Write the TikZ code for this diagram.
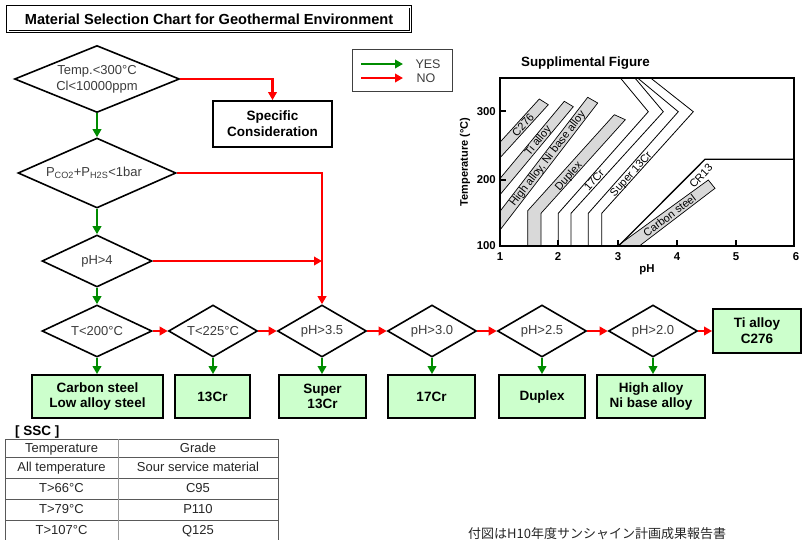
\documentclass[tikz,border=0pt]{standalone}
\usepackage{fontspec}
\setmainfont{Liberation Sans}
\newfontfamily\jpfont{Noto Sans CJK JP}
\usetikzlibrary{shapes.geometric,arrows.meta}

\definecolor{yesgreen}{RGB}{0,140,0}
\definecolor{nored}{RGB}{255,0,0}
\definecolor{boxgreen}{RGB}{204,255,204}
\definecolor{bandgray}{RGB}{217,217,217}
\definecolor{labelgray}{RGB}{60,60,60}

\tikzset{
  decision/.style={diamond, draw=black, line width=1.6pt, inner sep=0pt, align=center,
    text=labelgray, font=\fontsize{13}{16}\selectfont},
  result/.style={rectangle, draw=black, line width=1.8pt, fill=boxgreen, inner sep=0pt,
    align=center, font=\bfseries\fontsize{13.5}{15.7}\selectfont, minimum height=43pt},
  yesarrow/.style={draw=yesgreen, line width=2.2pt, -{Triangle[length=8pt,width=8.5pt]}},
  noarrow/.style={draw=nored, line width=2.2pt, -{Triangle[length=8pt,width=8.5pt]}},
  band/.style={draw=black, line width=0.7pt, fill=bandgray, line join=miter},
  bandlabel/.style={font=\fontsize{11}{11}\selectfont, inner sep=0pt},
  boundary/.style={draw=black, line width=0.8pt},
  ticklabel/.style={font=\bfseries\fontsize{11.4}{13}\selectfont, inner sep=0pt},
  tabletext/.style={font=\fontsize{13}{15}\selectfont, text=black!85, inner sep=0pt,
    text height=9.4pt, text depth=2.6pt},
  tableline/.style={draw=black!65, line width=0.9pt},
}

\begin{document}
\begin{tikzpicture}[x=1pt,y=-1pt]
\useasboundingbox (0,0) rectangle (802,539);

% ---------- title ----------
\node[draw=black, double, double distance=1.6pt, line width=0.9pt, inner sep=0pt,
  minimum width=402.6pt, minimum height=24.6pt,
  font=\bfseries\fontsize{14.6}{16}\selectfont] (title) at (209,19)
  {Material Selection Chart for Geothermal Environment};

% ---------- legend ----------
\node[draw=black!75, line width=1pt, minimum width=100pt, minimum height=42pt] (legend) at (402,70) {};
\coordinate (ya) at (361,64); \coordinate (yb) at (403,64);
\coordinate (na) at (361,78); \coordinate (nb) at (403,78);
\draw[yesarrow] (ya) -- (yb);
\draw[noarrow] (na) -- (nb);
\node[font=\fontsize{12.5}{14}\selectfont, text=labelgray] (yes) at (428,64) {YES};
\node[font=\fontsize{12.5}{14}\selectfont, text=labelgray] (no) at (426,78.5) {NO};

% ---------- flow chart ----------
\node[decision, minimum width=165pt, minimum height=67pt, shape aspect=2.46] (d1) at (97,79)
  {Temp.<300°C\\Cl<10000ppm};
\node[decision, minimum width=158pt, minimum height=70pt, shape aspect=2.26] (d2) at (97,173)
  {P\textsubscript{CO2}+P\textsubscript{H2S}<1bar\hspace{6pt}};
\node[decision, minimum width=110pt, minimum height=52pt, shape aspect=2.1] (d3) at (97,261) {pH>4};

\node[result, fill=white, minimum width=119pt, minimum height=46pt] (spec) at (272.5,124)
  {Specific\\Consideration};

\node[decision, minimum width=110pt, minimum height=52pt, shape aspect=2.1] (r1) at (97,331) {T<200°C};
\node[decision, minimum width=89pt, minimum height=52pt, shape aspect=1.71] (r2) at (213,331) {T<225°C};
\node[decision, minimum width=89pt, minimum height=52pt, shape aspect=1.71] (r3) at (322,331) {pH>3.5};
\node[decision, minimum width=89pt, minimum height=52pt, shape aspect=1.71] (r4) at (432,331) {pH>3.0};
\node[decision, minimum width=89pt, minimum height=52pt, shape aspect=1.71] (r5) at (542,331) {pH>2.5};
\node[decision, minimum width=89pt, minimum height=52pt, shape aspect=1.71] (r6) at (653,331) {pH>2.0};
\node[result, minimum width=88pt, minimum height=44pt] (ti) at (757,331) {Ti alloy\\C276};

\node[result, minimum width=131pt] (b1) at (97.5,396.5) {Carbon steel\\Low alloy steel};
\node[result, minimum width=75pt]  (b2) at (212.5,396.5) {13Cr};
\node[result, minimum width=87pt]  (b3) at (322.5,396.5) {Super\\13Cr};
\node[result, minimum width=87pt]  (b4) at (431.5,396.5) {17Cr};
\node[result, minimum width=86pt]  (b5) at (542,396.5) {Duplex};
\node[result, minimum width=108pt] (b6) at (651,396.5) {High alloy\\Ni base alloy};

% NO branches
\draw[noarrow] (d1.east) -| (spec.north);
\draw[noarrow] (d2.east) -| (r3.north);
\draw[noarrow] (d3.east) -- (d3.east -| r3.north);
\draw[noarrow] (r1.east) -- (r2.west);
\draw[noarrow] (r2.east) -- (r3.west);
\draw[noarrow] (r3.east) -- (r4.west);
\draw[noarrow] (r4.east) -- (r5.west);
\draw[noarrow] (r5.east) -- (r6.west);
\draw[noarrow] (r6.east) -- (ti.west);

% YES branches
\draw[yesarrow] (d1.south) -- (d2.north);
\draw[yesarrow] (d2.south) -- (d3.north);
\draw[yesarrow] (d3.south) -- (r1.north);
\foreach \r/\b in {r1/b1,r2/b2,r3/b3,r4/b4,r5/b5,r6/b6}
  \draw[yesarrow] (\r.south) -- (\r.south |- \b.north);

% ---------- supplemental pH-temperature map ----------
\node[font=\bfseries\fontsize{13.4}{15}\selectfont] (suptitle) at (585.5,63.3) {Supplimental Figure};

% alloy bands
\path[band] (539.3,99) -- (548.3,104.7) -- (500,157.8) -- (500,142.2) -- cycle;
\path[band] (564.3,101.3) -- (573.3,106.7) -- (500,194.7) -- (500,178.5) -- cycle;
\path[band] (587.7,97.3) -- (597.7,103) -- (500,230) -- (500,211.3) -- cycle;
\path[band] (527.7,245.5) -- (527.7,210.7) -- (614.3,114.7) -- (625.3,119.7)
  -- (541,213.3) -- (541,245.5) -- cycle;
\path[band] (618,245.5) -- (708.3,180) -- (715,188.3) -- (640,245.5) -- cycle;

% limit lines
\draw[boundary] (558.3,245.5) -- (558.3,213.3) -- (648.3,111.7) -- (620,77.5);
\draw[boundary] (571,245.5) -- (571,213.3) -- (663.3,111.7) -- (634.5,77.5);
\draw[boundary] (588.3,245.5) -- (588.3,213.3) -- (678.3,111.7) -- (637,77.5);
\draw[boundary] (601.7,245.5) -- (601.7,213.3) -- (693.3,111.7) -- (650,77.5);
\draw[black, line width=1.3pt] (619,245.5) -- (705,159.3) -- (794,159.3);

% band labels
\node[bandlabel, rotate=47.7] (lc276) at (523,125) {C276};
\node[bandlabel, rotate=50] (lti) at (538.5,141) {Ti alloy};
\node[bandlabel, rotate=52.4] (lha) at (548,159) {High alloy, Ni base alloy};
\node[bandlabel, rotate=48] (ldup) at (569,176.5) {Duplex};
\node[bandlabel, rotate=48] (l17) at (594,180) {17Cr};
\node[bandlabel, rotate=48] (ls13) at (631.5,174.5) {Super 13Cr};
\node[bandlabel, rotate=37] (lcs) at (669.5,215.5) {Carbon steel};
\node[bandlabel, rotate=47] (lcr) at (701,176) {CR13};

% frame and ticks
\draw[line width=2pt] (500,77.5) rectangle (794,245.5);
\foreach \x in {558,618,677,736} \draw[line width=2pt] (\x,245.5) -- (\x,240);
\foreach \y in {111.3,180} \draw[line width=2pt] (500,\y) -- (506,\y);
\foreach \x/\l in {500/1,558/2,618/3,677/4,736/5,796/6}
  \node[ticklabel] (px\l) at (\x,257) {\l};
\node[ticklabel, anchor=east] (ty1) at (496,245.5) {100};
\node[ticklabel, anchor=east] (ty2) at (496,180) {200};
\node[ticklabel, anchor=east] (ty3) at (496,111.3) {300};
\node[ticklabel] (xlab) at (647,270) {pH};
\node[font=\bfseries\fontsize{11}{12}\selectfont, rotate=90] (ylab) at (465,162) {Temperature (°C)};

% ---------- SSC table ----------
\node[font=\bfseries\fontsize{13.5}{15}\selectfont, anchor=west, inner sep=0pt] (ssc) at (15,432) {[ SSC ]};
\foreach \y in {439,457.5,478,499.5,520.5} \draw[tableline] (5,\y) -- (278,\y);
\draw[tableline] (5,439) -- (5,545);
\draw[tableline] (278,439) -- (278,545);
\draw[draw=black!40, line width=0.9pt] (118,439) -- (118,545);
\node[tabletext] (c11) at (61.5,449) {Temperature};
\node[tabletext] (c12) at (198,449) {Grade};
\node[tabletext] (c21) at (61.5,468.5) {All temperature};
\node[tabletext] (c22) at (198,468.5) {Sour service material};
\node[tabletext] (c31) at (61.5,489.5) {T>66°C};
\node[tabletext] (c32) at (198,489.5) {C95};
\node[tabletext] (c41) at (61.5,510.5) {T>79°C};
\node[tabletext] (c42) at (198,510.5) {P110};
\node[tabletext] (c51) at (61.5,531.5) {T>107°C};
\node[tabletext] (c52) at (198,531.5) {Q125};

% ---------- source note ----------
\node[anchor=west, inner sep=0pt, font=\jpfont\fontsize{13}{14}\selectfont, text=black!85] (note)
  at (468,534) {付図はH10年度サンシャイン計画成果報告書};
\end{tikzpicture}
\end{document}
